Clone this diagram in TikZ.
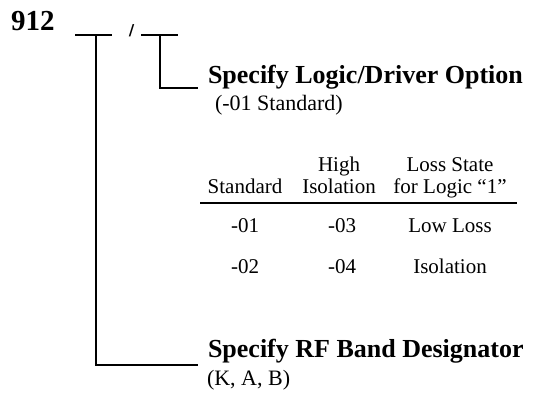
\documentclass[tikz,border=0pt]{standalone}
\usepackage{fontspec}
\setmainfont{Liberation Serif}
\newfontfamily\slashfont{DejaVu Sans}
\begin{document}
\begin{tikzpicture}[x=1pt,y=-1pt,
  lbl/.style={inner sep=0pt,outer sep=0pt},
  bigbold/.style={lbl,font=\fontsize{26}{30}\selectfont\bfseries},
  sub/.style={lbl,font=\fontsize{22}{26}\selectfont},
  cell/.style={lbl,anchor=base,font=\fontsize{21}{24}\selectfont},
  wire/.style={line width=2pt,line cap=rect},
  rulel/.style={line width=2.6pt}]
\useasboundingbox (0,0) rectangle (534,394);

% part number
\node[lbl,anchor=base west,font=\fontsize{29}{32}\selectfont\bfseries] (pn) at (11,30) {912};
\node[lbl,anchor=base,font=\fontsize{15}{17}\selectfont\slashfont\bfseries] (sl) at (131.5,35.5) {/};

% coordinates of the brackets
\coordinate (u1a) at (76,35);
\coordinate (u1b) at (111,35);
\coordinate (c1) at (96,35);
\coordinate (e1) at (197,365);
\coordinate (u2a) at (142,35);
\coordinate (u2b) at (177,35);
\coordinate (c2) at (160,35);
\coordinate (e2) at (197,88);

\draw[wire] (u1a) -- (u1b);
\draw[wire] (u2a) -- (u2b);
\draw[wire] (c1) |- (e1);
\draw[wire] (c2) |- (e2);

% labels
\node[bigbold,anchor=base west] (logic) at (208,83) {Specify Logic/Driver Option};
\node[sub,anchor=base west] (logicsub) at (215,110) {(-01 Standard)};
\node[bigbold,anchor=base west] (rf) at (208,357) {Specify RF Band Designator};
\node[sub,anchor=base west] (rfsub) at (207,385) {(K, A, B)};

% table
\node[cell] (h2a) at (339,171) {High};
\node[cell] (h3a) at (450,171) {Loss State};
\node[cell] (h1) at (245,193) {Standard};
\node[cell] (h2b) at (339,193) {Isolation};
\node[cell] (h3b) at (450,193) {for Logic “1”};
\coordinate (rl) at (200,203);
\coordinate (rr) at (517,203);
\draw[rulel] (rl) -- (rr);
\node[cell] (r11) at (245,232) {-01};
\node[cell] (r12) at (342,232) {-03};
\node[cell] (r13) at (450,232) {Low Loss};
\node[cell] (r21) at (245,273) {-02};
\node[cell] (r22) at (342,273) {-04};
\node[cell] (r23) at (450,273) {Isolation};
\end{tikzpicture}
\end{document}
